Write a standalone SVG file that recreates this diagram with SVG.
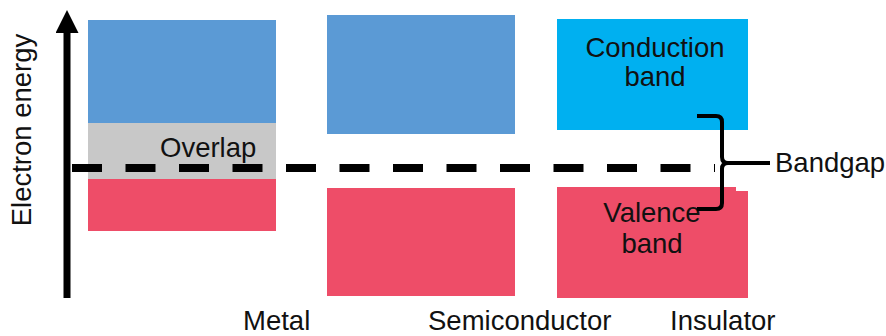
<svg xmlns="http://www.w3.org/2000/svg" width="886" height="336" viewBox="0 0 886 336">
<style>
text{font-family:"Liberation Sans",Arial,sans-serif;font-size:27.5px;fill:#111}
.cb{fill:#5B9AD5}
.vb{fill:#EE4D68}
</style>
<defs>
<marker id="ah" markerWidth="23" markerHeight="23" refX="0" refY="11.5" orient="auto" markerUnits="userSpaceOnUse" viewBox="0 0 23 23"><path d="M0,0 L23,11.5 L0,23 Z" fill="#000"/></marker>
</defs>
<rect width="886" height="336" fill="#fff"/>
<g id="metal">
<rect class="cb" x="88" y="20" width="188" height="103"/>
<rect x="88" y="123" width="188" height="56" fill="#C8C8C8"/>
<rect class="vb" x="88" y="179" width="188" height="52"/>
<text x="160" y="157">Overlap</text>
<text x="243" y="330">Metal</text>
</g>
<g id="semiconductor">
<rect class="cb" x="327" y="15" width="188" height="119"/>
<rect class="vb" x="327" y="188" width="188" height="108"/>
<text x="428" y="330">Semiconductor</text>
</g>
<g id="insulator">
<rect x="557" y="19" width="191" height="111" fill="#00B0F0"/>
<path class="vb" d="M557,187 H736 V191 H748 V298 H557 Z"/>
<text x="655" y="57" text-anchor="middle">Conduction</text>
<text x="655" y="86" text-anchor="middle">band</text>
<text x="652" y="222" text-anchor="middle">Valence</text>
<text x="652" y="253" text-anchor="middle">band</text>
<text x="670" y="330">Insulator</text>
</g>
<g id="axis">
<line x1="67" y1="298" x2="67" y2="33" stroke="#000" stroke-width="7" marker-end="url(#ah)"/>
<text transform="translate(31,130) rotate(-90)" text-anchor="middle">Electron energy</text>
</g>
<g id="connectors">
<line x1="72" y1="168" x2="715" y2="168" stroke="#000" stroke-width="8" stroke-dasharray="30 23.5"/>
<path d="M697,116 H716 Q722,116 722,122 V157 Q722,163 728,163 Q722,163 722,169 V203 Q722,209 716,209 H697 M728,163 H770" fill="none" stroke="#000" stroke-width="4"/>
</g>
<g id="bandgap">
<text x="775" y="172">Bandgap</text>
</g>
</svg>
